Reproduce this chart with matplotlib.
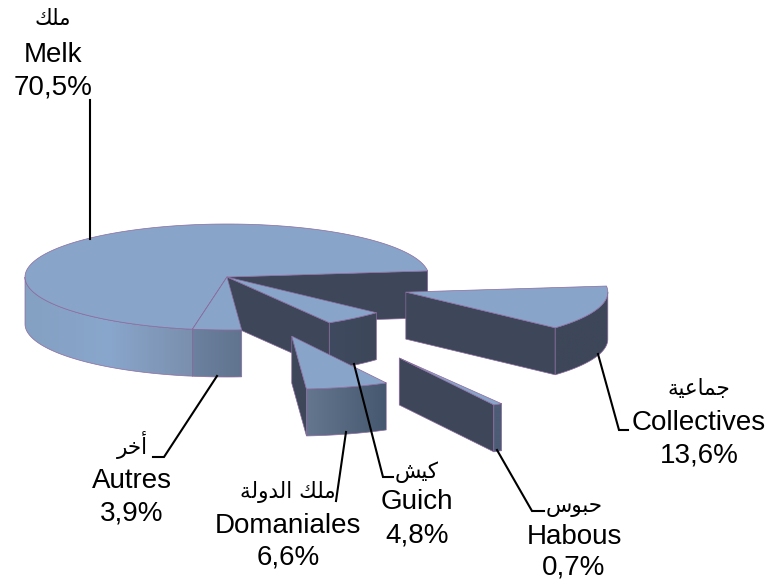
#!/usr/bin/env python3
import numpy as np
import matplotlib
matplotlib.use("Agg")
import matplotlib.pyplot as plt
from matplotlib.colors import LinearSegmentedColormap
from matplotlib.patches import Polygon

# slices in pie order, counterclockwise
names = ["Melk", "Autres", "Domaniales", "Habous", "Guich", "Collectives"]
arabic = ["ملك", "أخر", "ملك الدولة", "حبوس", "كيش", "جماعية"]
shares = [70.5, 3.9, 6.6, 0.7, 4.8, 13.6]
share_labels = ["70,5%", "3,9%", "6,6%", "0,7%", "4,8%", "13,6%"]
explode = [0, 0, 1.16, 1.75, 0, 0.93]
side_colors = [
    ["#84A0C2", "#89A6CC", "#7A8FAD"],
    ["#6C819F", "#60748F"],
    ["#64778F", "#465870"],
    ["#4C5C75", "#4C5C75"],
    ["#3F4A60", "#3D4759"],
    ["#3D4759", "#3D4759"],
]
draw_order = [0, 4, 1, 2, 3, 5]

# label x centre and the three baselines, leader polyline
label_pos = [
    (53, 25, 62, 94),
    (132, 454, 488, 521),
    (288, 498, 533, 565),
    (574, 512, 544, 575),
    (417, 478, 509, 542),
    (699, 395, 430, 463),
]
leaders = [
    [(90, 100), (90, 239)],
    [(217, 376), (164, 457), (153, 457)],
    [(346, 432), (336, 501)],
    [(497, 450), (532, 511), (544, 511)],
    [(354, 364), (383, 477), (393, 477)],
    [(598, 354), (619, 430), (628, 430)],
]

CX, CY = 227, 277
RX, RY = 202, 53
DEPTH = 47
START = 6.6
TOP = "#88A4C9"
DARK = "#3D4759"
EDGE = "#8C6A9E"

# isolated form of each letter; final/initial/medial follow it in Unicode
FOUR = {"م": 0xFEE1, "ل": 0xFEDD, "ك": 0xFED9, "ج": 0xFE9D, "ع": 0xFEC9, "ي": 0xFEF1,
        "ح": 0xFEA1, "ب": 0xFE8F, "س": 0xFEB1, "ش": 0xFEB5, "خ": 0xFEA5}
TWO = {"ا": 0xFE8D, "أ": 0xFE83, "د": 0xFEA9, "ر": 0xFEAD, "و": 0xFEED, "ة": 0xFE93}


def shape(text):
    """matplotlib does no Arabic shaping, so pick the joined forms and reverse."""
    out = []
    for i, c in enumerate(text):
        if c not in FOUR and c not in TWO:
            out.append(c)
            continue
        after = i > 0 and text[i - 1] in FOUR
        before = i + 1 < len(text) and (text[i + 1] in FOUR or text[i + 1] in TWO)
        if c in TWO:
            out.append(chr(TWO[c] + (1 if after else 0)))
        elif after and before:
            out.append(chr(FOUR[c] + 3))
        elif before:
            out.append(chr(FOUR[c] + 2))
        elif after:
            out.append(chr(FOUR[c] + 1))
        else:
            out.append(chr(FOUR[c]))
    return "".join(reversed(out))


def point(theta, ox, oy):
    t = np.radians(theta)
    return ox + RX * np.cos(t), oy - RY * np.sin(t)


def draw_slice(ax, t1, t2, ox, oy, colors, z):
    # flat side face at the slice start
    x1, y1 = point(t1, ox, oy)
    ax.add_patch(Polygon([(ox, oy), (x1, y1), (x1, y1 + DEPTH), (ox, oy + DEPTH)],
                         fc=DARK, ec=EDGE, lw=0.5, zorder=z))
    # curved outer wall, only the front half shows
    a, b = max(t1, 180), min(t2, 360)
    thetas = np.linspace(a, b, 80)
    xs, ys = point(thetas, ox, oy)
    wall = list(zip(xs, ys)) + list(zip(xs[::-1], ys[::-1] + DEPTH))
    cmap = LinearSegmentedColormap.from_list("side", colors)
    grad = np.linspace(0, 1, 128).reshape(1, -1)
    im = ax.imshow(grad, cmap=cmap, aspect="auto", zorder=z,
                   extent=(xs.min(), xs.max(), ys.max() + DEPTH, ys.min()))
    patch = Polygon(wall, fc="none", ec=EDGE, lw=0.5, zorder=z + 0.1)
    ax.add_patch(patch)
    im.set_clip_path(patch)
    # top face
    thetas = np.linspace(t1, t2, 200)
    xs, ys = point(thetas, ox, oy)
    ax.add_patch(Polygon([(ox, oy)] + list(zip(xs, ys)), fc=TOP, ec=EDGE, lw=0.5, zorder=z + 0.2))


def make_plot():
    fig = plt.figure(figsize=(7.73, 5.85), dpi=100)
    ax = fig.add_axes([0, 0, 1, 1])
    angles = START + np.concatenate([[0], np.cumsum(shares)]) / sum(shares) * 360

    for z, i in enumerate(draw_order):
        t1, t2 = angles[i], angles[i + 1]
        mid = np.radians((t1 + t2) / 2)
        ox = CX + explode[i] * RX * np.cos(mid)
        oy = CY - explode[i] * RY * np.sin(mid)
        draw_slice(ax, t1, t2, ox, oy, side_colors[i], z + 1)

    for line in leaders:
        ax.plot(*zip(*line), color="black", lw=1.5, zorder=20, solid_joinstyle="miter")

    for i, (x, y_ar, y_name, y_share) in enumerate(label_pos):
        ax.text(x, y_ar, shape(arabic[i]), family=["DejaVu Sans"], fontsize=15.5,
                ha="center", va="baseline", zorder=21)
        ax.text(x, y_name, names[i], family=["Liberation Sans"], fontsize=20,
                ha="center", va="baseline", zorder=21)
        ax.text(x, y_share, share_labels[i], family=["Liberation Sans"], fontsize=20,
                ha="center", va="baseline", zorder=21)

    ax.set_xlim(0, 773)
    ax.set_ylim(585, 0)
    ax.axis("off")
    fig.savefig("out.png", dpi=100)
    plt.close(fig)


if __name__ == "__main__":
    make_plot()
